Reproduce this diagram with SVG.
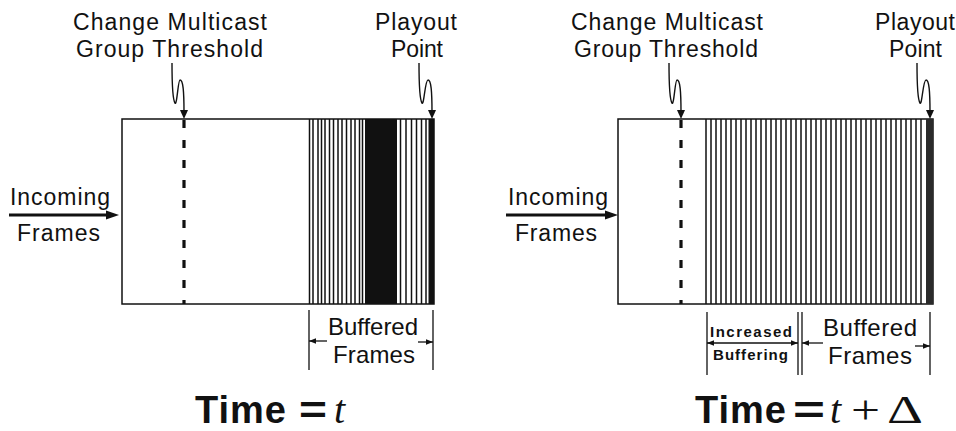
<svg xmlns="http://www.w3.org/2000/svg" width="956" height="431" viewBox="0 0 956 431">
<style>
.lbl{font-family:"Liberation Sans",Arial,Helvetica,sans-serif;font-size:23px;fill:#111}
.mid{font-family:"Liberation Sans",Arial,Helvetica,sans-serif;font-size:24px;fill:#111}
.sm{font-family:"Liberation Sans",Arial,Helvetica,sans-serif;font-size:15px;font-weight:bold;fill:#111}
.big{font-family:"Liberation Sans",Arial,Helvetica,sans-serif;font-size:38px;font-weight:bold;fill:#111}
.mth{font-family:"Liberation Serif","Times New Roman",serif;font-size:40px;fill:#111}
.box{fill:#fff;stroke:#111;stroke-width:1.5}
.str{stroke:#111;stroke-width:1.5;fill:none}
.dash{stroke:#111;stroke-width:3.2;stroke-dasharray:8 12;fill:none}
.thin{stroke:#111;stroke-width:1.3;fill:none}
.sq{stroke:#111;stroke-width:1.4;fill:none}
.thick{stroke:#111;stroke-width:3.2;fill:none}
.ah{fill:#111}
</style>
<defs>
<marker id="sa" viewBox="0 0 10 8" refX="10" refY="4" markerWidth="7" markerHeight="5.6" markerUnits="userSpaceOnUse" orient="auto-start-reverse">
<path d="M0,0 L10,4 L0,8 Z" fill="#111"/>
</marker>
</defs>

<g id="left-buffer">
<rect class="box" x="122" y="119" width="312" height="185"/>
<path class="dash" d="M184,120V304"/>
<path class="str" d="M309.5,119V304M313,119V304M318,119V304M321.5,119V304M325,119V304M329.5,119V304M333.5,119V304M338,119V304M342,119V304M346.5,119V304M351,119V304M355,119V304M359.5,119V304M362.5,119V304M400.5,119V304M406,119V304M411.5,119V304M416.5,119V304M421.5,119V304M426,119V304"/>
<rect x="365" y="119" width="32" height="185" fill="#111"/>
<rect x="428.5" y="119" width="5.5" height="185" fill="#111"/>
</g>

<g id="right-buffer">
<rect class="box" x="618" y="119" width="315" height="185"/>
<path class="dash" d="M681,120V304"/>
<path class="str" d="M706,119V304M711,119V304M716,119V304M721,119V304M726,119V304M731,119V304M736,119V304M741,119V304M746,119V304M751,119V304M756,119V304M761,119V304M766,119V304M771,119V304M776,119V304M781,119V304M786,119V304M791,119V304M796,119V304M801,119V304M806,119V304M811,119V304M816,119V304M821,119V304M826,119V304M831,119V304M836,119V304M841,119V304M846,119V304M851,119V304M856,119V304M861,119V304M866,119V304M871,119V304M876,119V304M881,119V304M886,119V304M891,119V304M896,119V304M901,119V304M906,119V304M911,119V304M916,119V304M921,119V304"/>
<rect x="926" y="119" width="7" height="185" fill="#2a2a2a"/>
</g>

<g id="left-labels">
<text class="lbl" x="73" y="30" textLength="194" lengthAdjust="spacing">Change Multicast</text>
<text class="lbl" x="76" y="57" textLength="187" lengthAdjust="spacing">Group Threshold</text>
<text class="lbl" x="375" y="30" textLength="82" lengthAdjust="spacing">Playout</text>
<text class="lbl" x="391" y="57" textLength="52" lengthAdjust="spacing">Point</text>
<text class="lbl" x="10" y="205" textLength="100" lengthAdjust="spacing">Incoming</text>
<text class="lbl" x="17" y="241" textLength="83" lengthAdjust="spacing">Frames</text>
<text class="mid" x="328" y="335" textLength="90" lengthAdjust="spacing">Buffered</text>
<text class="mid" x="333" y="363" textLength="82" lengthAdjust="spacing">Frames</text>
<text class="big" x="195" y="423" textLength="91" lengthAdjust="spacing">Time</text>
<text class="big" x="299" y="423" textLength="28" lengthAdjust="spacingAndGlyphs">=</text>
<text class="mth" x="334" y="423" font-style="italic">t</text>
</g>

<g id="right-labels">
<text class="lbl" x="571" y="30" textLength="192" lengthAdjust="spacing">Change Multicast</text>
<text class="lbl" x="574" y="57" textLength="184" lengthAdjust="spacing">Group Threshold</text>
<text class="lbl" x="875" y="30" textLength="80" lengthAdjust="spacing">Playout</text>
<text class="lbl" x="889" y="57" textLength="53" lengthAdjust="spacing">Point</text>
<text class="lbl" x="508" y="205" textLength="100" lengthAdjust="spacing">Incoming</text>
<text class="lbl" x="515" y="241" textLength="82" lengthAdjust="spacing">Frames</text>
<text class="sm" x="710" y="337" textLength="82" lengthAdjust="spacing">Increased</text>
<text class="sm" x="713" y="360" textLength="75" lengthAdjust="spacing">Buffering</text>
<text class="mid" x="823" y="336" textLength="94" lengthAdjust="spacing">Buffered</text>
<text class="mid" x="828" y="364" textLength="84" lengthAdjust="spacing">Frames</text>
<text class="big" x="695" y="423" textLength="91" lengthAdjust="spacing">Time</text>
<text class="big" x="793" y="423" textLength="32" lengthAdjust="spacingAndGlyphs">=</text>
<text class="mth" x="830" y="423" font-style="italic">t</text>
<text class="mth" x="851" y="423" textLength="29" lengthAdjust="spacingAndGlyphs">+</text>
<text class="mth" x="887" y="423" textLength="36" lengthAdjust="spacingAndGlyphs">Δ</text>
</g>

<g id="connectors">
<path class="sq" d="M172,63 C172,80 173,100 175,103 C177,106 178,80 180,80 C183,80 184,90 184,112"/>
<path class="ah" d="M180,110 L188,110 L184,119 Z"/>
<path class="sq" d="M419,63 C419,80 420,100 422,103 C424,106 425,80 428,80 C431,80 432,90 432,112"/>
<path class="ah" d="M428,110 L436,110 L432,119 Z"/>
<path class="sq" d="M669,63 C669,80 670,100 672,103 C674,106 675,80 677,80 C680,80 681,90 681,112"/>
<path class="ah" d="M677,110 L685,110 L681,119 Z"/>
<path class="sq" d="M917,63 C917,80 918,100 920,103 C922,106 923,80 926,80 C929,80 930,90 930,112"/>
<path class="ah" d="M926,110 L934,110 L930,119 Z"/>
<path class="thick" d="M9,215H108"/>
<path class="ah" d="M106,210.5 L119,215 L106,219.5 Z"/>
<path class="thick" d="M506,215H607"/>
<path class="ah" d="M605,210.5 L618,215 L605,219.5 Z"/>
<path class="thin" d="M309,310V370M433,310V370"/>
<path class="thin" d="M327,341H309" marker-end="url(#sa)"/>
<path class="thin" d="M418,342H433" marker-end="url(#sa)"/>
<path class="thin" d="M707,312V375M798,312V375M802,312V375M930,312V375"/>
<path class="thin" d="M707,343H798" marker-start="url(#sa)" marker-end="url(#sa)"/>
<path class="thin" d="M823,343H802" marker-end="url(#sa)"/>
<path class="thin" d="M915,346H930" marker-end="url(#sa)"/>
</g>
</svg>
